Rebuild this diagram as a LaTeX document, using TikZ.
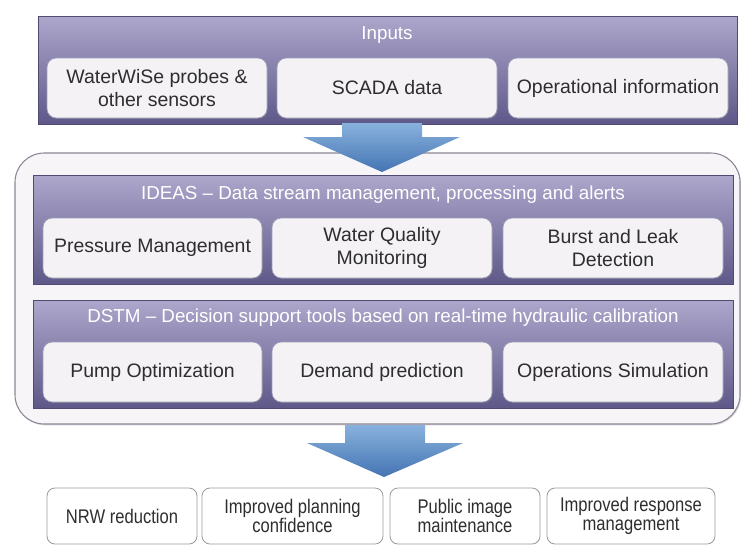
\documentclass[tikz,border=0pt]{standalone}
\usepackage{fontspec}
\setmainfont{Liberation Sans}
\newfontfamily\narrowfont[FakeStretch=0.84]{Liberation Sans}
\usetikzlibrary{shadows}
\definecolor{barTop}{HTML}{ADA7CC}
\definecolor{barBot}{HTML}{5D5888}
\definecolor{boxFill}{HTML}{F4F2F5}
\definecolor{txt}{HTML}{2E2E2E}
\definecolor{contFill}{HTML}{F7F5F7}
\definecolor{contLine}{HTML}{8E8596}
\definecolor{arrTop}{HTML}{88B1DD}
\definecolor{arrBot}{HTML}{4474B2}
\definecolor{outLine}{HTML}{9A9A9A}
\newcommand\pbox[7]{\node[#1, minimum width={(#5-#3)*0.75pt}, minimum height={(#6-#4)*0.75pt}] (#2) at ({(#3+#5)/2},{(#4+#6)/2}) {#7};}
\tikzset{
  bar/.style={rectangle, inner sep=0pt, outer sep=0pt, top color=barTop, bottom color=barBot, draw=barBot!85!black, line width=0.4pt},
  inbox/.style={rectangle, rounded corners=7pt, fill=boxFill, draw=barBot!60, line width=0.5pt, align=center, text=txt, font=\fontsize{14.6}{17}\selectfont, inner sep=0pt, outer sep=0pt, drop shadow={shadow xshift=0.8pt, shadow yshift=-0.8pt, opacity=0.4}},
  bartitle/.style={text=white, font=\fontsize{14.1}{16}\selectfont, inner sep=0pt},
  outbox/.style={rectangle, rounded corners=6pt, fill=white, draw=outLine, line width=0.6pt, align=center, text=txt, inner sep=0pt, outer sep=0pt, font=\narrowfont\fontsize{14.8}{14}\selectfont},
  cont/.style={rectangle, rounded corners=22pt, fill=contFill, draw=contLine, line width=0.8pt, inner sep=0pt, drop shadow={shadow xshift=0.8pt, shadow yshift=-1pt, opacity=0.3}},
  bigarrow/.style={top color=arrTop, bottom color=arrBot}
}
\begin{document}
\begin{tikzpicture}[x=0.75pt, y=-0.75pt]
\useasboundingbox[fill=white] (0,0) rectangle (741,546);
% container
\pbox{cont}{container}{15}{153}{740}{424}{}
% inputs
\pbox{bar}{inputs}{38}{16}{737}{124}{}
\node[bartitle] (inputsT) at (387,35) {Inputs};
\pbox{inbox}{waterwise}{47}{58}{267}{118}{WaterWiSe probes \&\\other sensors}
\pbox{inbox}{scada}{277}{58}{497}{118}{SCADA data}
\pbox{inbox}{oper}{508}{58}{728}{118}{Operational information}
% IDEAS
\pbox{bar}{ideas}{33}{175}{733}{284}{}
\node[bartitle] (ideasT) at (383,195) {IDEAS -- Data stream management, processing and alerts};
\pbox{inbox}{pressure}{43}{218}{262}{278}{Pressure Management}
\pbox{inbox}{quality}{272}{218}{492}{278}{Water Quality\\Monitoring}
\pbox{inbox}{burst}{503}{218}{723}{278}{Burst and Leak\\Detection}
% DSTM
\pbox{bar}{dstm}{33}{300}{733}{408}{}
\node[bartitle] (dstmT) at (383,318) {DSTM -- Decision support tools based on real-time hydraulic calibration};
\pbox{inbox}{pump}{43}{342}{262}{402}{Pump Optimization}
\pbox{inbox}{demand}{272}{342}{492}{402}{Demand prediction}
\pbox{inbox}{opsim}{503}{342}{723}{402}{Operations Simulation}
% arrows
\path[bigarrow] (342,123) -- (422,123) -- (422,137) -- (460,137) -- (382,172) -- (303,137) -- (342,137) -- cycle;
\path[bigarrow] (345,425) -- (425,425) -- (425,443) -- (463,443) -- (384,477) -- (307,443) -- (345,443) -- cycle;
% outcomes
\pbox{outbox}{nrw}{47}{488}{197}{544}{NRW reduction}
\pbox{outbox}{planning}{202}{488}{383}{544}{Improved planning\\confidence}
\pbox{outbox}{public}{390}{488}{540}{544}{Public image\\maintenance}
\pbox{outbox}{response}{547}{488}{715}{544}{Improved response\\management}
\end{tikzpicture}
\end{document}
